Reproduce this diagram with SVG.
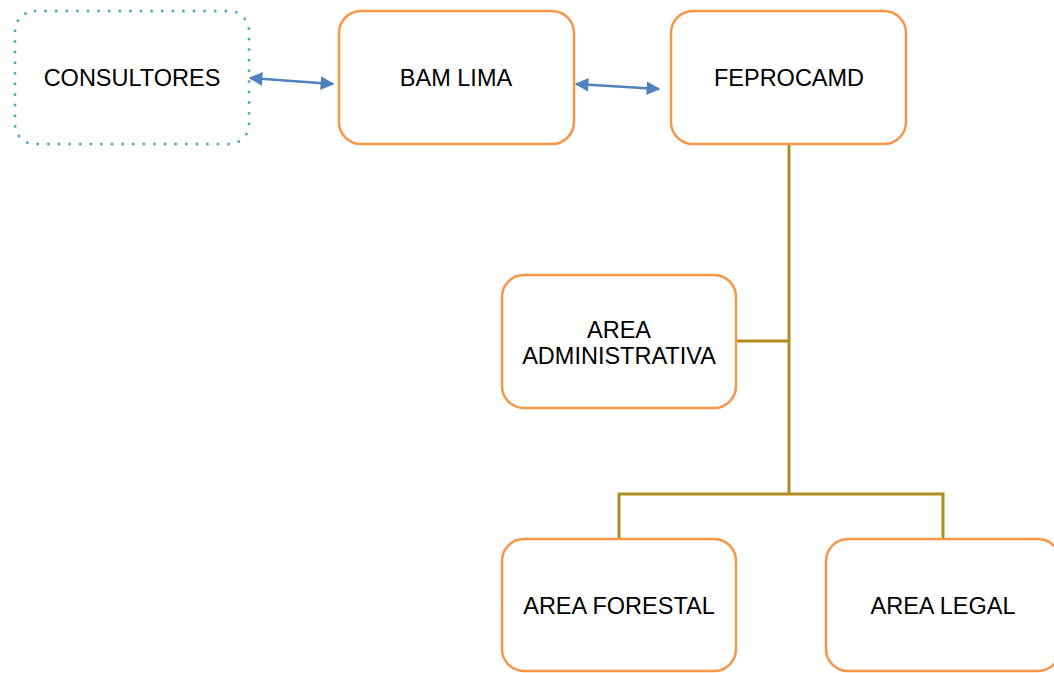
<svg xmlns="http://www.w3.org/2000/svg" width="1054" height="673" viewBox="0 0 1054 673">
<style>
.box{fill:#fff;stroke:#F79646;stroke-width:2.5}
.dot{fill:#fff;stroke:#4BACC6;stroke-width:3;stroke-dasharray:0 10.6;stroke-linecap:round}
.t{font-family:"Liberation Sans",Arial,sans-serif;font-size:23.5px;fill:#000;text-anchor:middle}
.ln{stroke:#B08C1E;stroke-width:3;fill:none}
.ar{stroke:#4F81BD;stroke-width:2.5;fill:none;marker-start:url(#a);marker-end:url(#a)}
</style>
<defs>
<marker id="a" viewBox="0 0 10 10" refX="9" refY="5" markerWidth="6" markerHeight="5.5" orient="auto-start-reverse" markerUnits="strokeWidth">
<path d="M0,0 L10,5 L0,10 z" fill="#4F81BD"/>
</marker>
</defs>
<g id="connectors">
<path class="ln" d="M789,144 V494 M736,341 H789 M619,539 V494 H943 V539"/>
<line class="ar" x1="250" y1="78" x2="333" y2="84"/>
<line class="ar" x1="576" y1="84" x2="659" y2="89"/>
</g>
<g id="consultores">
<rect class="dot" x="15" y="11" width="234" height="133" rx="20"/>
<text class="t" x="132" y="85.5">CONSULTORES</text>
</g>
<g id="bam-lima">
<rect class="box" x="339" y="11" width="235" height="133" rx="22"/>
<text class="t" x="456" y="85.5">BAM LIMA</text>
</g>
<g id="feprocamd">
<rect class="box" x="671" y="11" width="235" height="133" rx="22"/>
<text class="t" x="789" y="85.5">FEPROCAMD</text>
</g>
<g id="area-administrativa">
<rect class="box" x="502" y="275" width="234" height="133" rx="22"/>
<text class="t" x="619" y="337.5">AREA</text>
<text class="t" x="619" y="363.5">ADMINISTRATIVA</text>
</g>
<g id="area-forestal">
<rect class="box" x="502" y="539" width="234" height="132" rx="22"/>
<text class="t" x="619" y="613.5">AREA FORESTAL</text>
</g>
<g id="area-legal">
<rect class="box" x="826" y="539" width="234" height="132" rx="22"/>
<text class="t" x="943" y="613.5">AREA LEGAL</text>
</g>
</svg>
